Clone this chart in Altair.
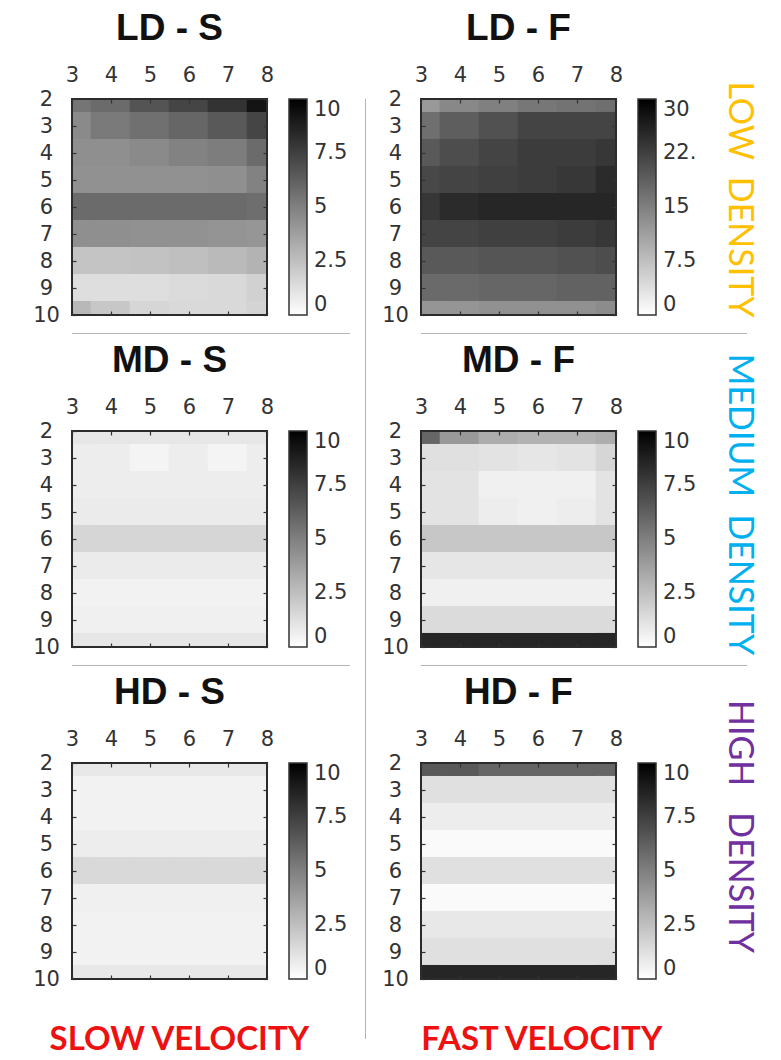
import altair as alt
import pandas as pd

# ---------------- data ----------------
X_VALUES = [3, 4, 5, 6, 7, 8]
Y_VALUES = [2, 3, 4, 5, 6, 7, 8, 9, 10]

# rows: y = 2 .. 10 ; columns: x = 3 .. 8
LD_S = [
    [5.4, 5.8, 6.7, 7.3, 8.0, 9.2],
    [4.6, 5.2, 5.6, 6.0, 6.5, 7.3],
    [4.4, 4.4, 4.6, 4.9, 5.1, 5.8],
    [4.3, 4.3, 4.3, 4.3, 4.4, 4.9],
    [5.8, 5.8, 5.8, 5.8, 5.8, 5.7],
    [4.4, 4.4, 4.3, 4.3, 4.2, 4.1],
    [2.3, 2.3, 2.4, 2.5, 2.7, 3.0],
    [1.3, 1.3, 1.3, 1.4, 1.5, 1.8],
    [2.8, 2.2, 1.6, 1.5, 1.5, 1.7],
]
LD_F = [
    [12.0, 14.0, 15.0, 16.0, 16.5, 17.0],
    [17.0, 19.0, 20.5, 22.0, 22.0, 22.0],
    [19.5, 21.0, 22.0, 23.0, 23.0, 23.5],
    [21.5, 22.0, 22.5, 23.0, 23.5, 25.0],
    [23.5, 25.0, 25.5, 25.5, 25.5, 25.5],
    [22.0, 22.0, 22.5, 22.5, 23.0, 23.5],
    [19.5, 19.5, 20.0, 20.0, 20.5, 21.0],
    [17.5, 17.5, 18.0, 18.0, 18.5, 18.5],
    [12.5, 12.5, 13.0, 13.0, 13.0, 13.5],
]
MD_S = [
    [1.0, 1.0, 1.0, 1.0, 1.0, 1.0],
    [0.7, 0.7, 0.45, 0.7, 0.45, 0.7],
    [0.7, 0.7, 0.7, 0.7, 0.7, 0.7],
    [0.8, 0.8, 0.8, 0.8, 0.8, 0.8],
    [1.6, 1.6, 1.6, 1.6, 1.6, 1.6],
    [0.8, 0.8, 0.8, 0.8, 0.8, 0.8],
    [0.5, 0.5, 0.5, 0.5, 0.5, 0.5],
    [0.6, 0.6, 0.6, 0.6, 0.6, 0.6],
    [1.0, 1.0, 1.0, 1.0, 1.0, 1.0],
]
MD_F = [
    [6.0, 4.0, 3.2, 3.0, 3.0, 3.2],
    [1.2, 1.2, 1.1, 1.0, 1.1, 1.6],
    [1.1, 1.1, 0.6, 0.6, 0.6, 1.1],
    [1.1, 1.1, 0.7, 0.6, 0.7, 1.1],
    [2.2, 2.2, 2.2, 2.2, 2.2, 2.2],
    [1.0, 1.0, 1.0, 1.0, 1.0, 1.0],
    [0.6, 0.6, 0.6, 0.6, 0.6, 0.6],
    [1.4, 1.4, 1.4, 1.4, 1.4, 1.4],
    [8.5, 8.5, 8.5, 8.5, 8.5, 8.5],
]
HD_S = [
    [0.9, 0.9, 0.9, 0.9, 0.9, 0.9],
    [0.5, 0.5, 0.5, 0.5, 0.5, 0.5],
    [0.5, 0.5, 0.5, 0.5, 0.5, 0.5],
    [0.7, 0.7, 0.7, 0.7, 0.7, 0.7],
    [1.5, 1.5, 1.5, 1.5, 1.5, 1.5],
    [0.6, 0.6, 0.6, 0.6, 0.6, 0.6],
    [0.5, 0.5, 0.5, 0.5, 0.5, 0.5],
    [0.5, 0.5, 0.5, 0.5, 0.5, 0.5],
    [0.9, 0.9, 0.9, 0.9, 0.9, 0.9],
]
HD_F = [
    [6.5, 6.5, 6.0, 6.0, 6.0, 6.0],
    [1.2, 1.2, 1.2, 1.2, 1.2, 1.2],
    [0.7, 0.7, 0.7, 0.7, 0.7, 0.7],
    [0.2, 0.2, 0.2, 0.2, 0.2, 0.2],
    [1.2, 1.2, 1.2, 1.2, 1.2, 1.2],
    [0.2, 0.2, 0.2, 0.2, 0.2, 0.2],
    [0.9, 0.9, 0.9, 0.9, 0.9, 0.9],
    [1.2, 1.2, 1.2, 1.2, 1.2, 1.2],
    [8.5, 8.5, 8.5, 8.5, 8.5, 8.5],
]

CB_10 = [0, 2.5, 5, 7.5, 10]
CB_30 = [0, 7.5, 15, 22.5, 30]

PANEL_TITLES = ["LD - S", "LD - F", "MD - S", "MD - F", "HD - S", "HD - F"]
ROW_LABELS = ["LOW\u00a0\u00a0DENSITY", "MEDIUM\u00a0\u00a0DENSITY", "HIGH\u00a0\u00a0\u00a0DENSITY"]
ROW_COLORS = ["#FFC000", "#00B0F0", "#7030A0"]
COL_LABELS = ["SLOW VELOCITY", "FAST VELOCITY"]

# ---------------- styling ----------------
W, H = 195, 216
TICK_FONT = "DejaVu Sans"
TXT = "#333333"
LINE = "#b4b4b4"
RED = "#EE1111"


def panel(title, grid, vmax, cb_values):
    df = pd.DataFrame(
        [{"x": x, "y": y, "v": grid[i][j]}
         for i, y in enumerate(Y_VALUES) for j, x in enumerate(X_VALUES)]
    )
    xs = alt.Scale(domain=[3, 8], clamp=True, nice=False, zero=False)
    ys = alt.Scale(domain=[2, 10], reverse=True, clamp=True, nice=False, zero=False)
    cs = alt.Scale(domain=[0, vmax], range=["#ffffff", "#000000"], interpolate="rgb")
    label_expr = "datum.value == 22.5 ? '22.' : '' + datum.value"
    heat = (
        alt.Chart(df)
        .transform_calculate(
            x0="datum.x - 0.52", x1="datum.x + 0.52",
            y0="datum.y - 0.52", y1="datum.y + 0.52",
        )
        .mark_rect()
        .encode(
            x=alt.X("x0:Q", scale=xs, axis=alt.Axis(
                orient="top", values=X_VALUES, title=None, grid=False, domain=False,
                offset=-4, tickSize=4, tickColor=TXT, tickWidth=1.2, labelPadding=14,
                labelFlush=False, labelFont=TICK_FONT, labelFontSize=21,
                labelColor=TXT, zindex=1)),
            x2="x1:Q",
            y=alt.Y("y0:Q", scale=ys, axis=alt.Axis(
                orient="left", values=Y_VALUES, title=None, grid=False, domain=False,
                offset=-4, tickSize=4, tickColor=TXT, tickWidth=1.2, labelPadding=26,
                labelAlign="center", labelFlush=False, labelFont=TICK_FONT,
                labelFontSize=21, labelColor=TXT, labelBaseline="middle", zindex=1)),
            y2="y1:Q",
            color=alt.Color("v:Q", scale=cs, legend=alt.Legend(
                type="gradient", title=None, orient="right", direction="vertical",
                gradientLength=H, gradientThickness=18, values=cb_values,
                gradientStrokeColor=TXT, gradientStrokeWidth=1.5,
                labelFont=TICK_FONT, labelFontSize=21, labelColor=TXT,
                labelBaseline="middle",
                labelOffset=7, offset=21, padding=0, labelExpr=label_expr)),
        )
    )
    ticks = (
        alt.Chart(df)
        .mark_point(size=0, opacity=0)
        .encode(
            x=alt.X("x:Q", scale=xs, axis=alt.Axis(
                orient="bottom", values=X_VALUES, title=None, grid=False,
                domain=False, labels=False, offset=-4, tickSize=4,
                tickColor=TXT, tickWidth=1.2, zindex=1)),
            y=alt.Y("y:Q", scale=ys, axis=alt.Axis(
                orient="right", values=Y_VALUES, title=None, grid=False,
                domain=False, labels=False, offset=-4, tickSize=4,
                tickColor=TXT, tickWidth=1.2, zindex=1)),
        )
    )
    frame = (
        alt.Chart(pd.DataFrame({"one": [1]}))
        .mark_rect(fillOpacity=0, stroke="#2b2b2b", strokeWidth=2)
        .encode(x=alt.value(0), x2=alt.value("width"),
                y=alt.value(0), y2=alt.value("height"))
    )
    return (
        alt.layer(heat, ticks, frame)
        .resolve_axis(x="independent", y="independent")
        .properties(
            width=W, height=H,
            title=alt.Title(title, font="Liberation Sans", fontSize=37,
                            fontWeight="bold", color="#111111", anchor="middle",
                            frame="group", offset=16),
        )
    )


def divider(w, h):
    return (
        alt.Chart(pd.DataFrame({"one": [1]}))
        .mark_point(size=0, opacity=0)
        .properties(width=w, height=h,
                    view=alt.ViewBackground(fill=LINE, strokeOpacity=0))
    )


def indep(c):
    return c.resolve_scale(color="independent").resolve_legend(color="independent")


grids = [LD_S, LD_F, MD_S, MD_F, HD_S, HD_F]
maxes = [10, 30, 10, 10, 10, 10]
cbs = [CB_10, CB_30, CB_10, CB_10, CB_10, CB_10]
row_dx = [32, 5, -5]

left, right = [], []
for r in range(3):
    s = panel(PANEL_TITLES[2 * r], grids[2 * r], maxes[2 * r], cbs[2 * r])
    f = panel(PANEL_TITLES[2 * r + 1], grids[2 * r + 1], maxes[2 * r + 1], cbs[2 * r + 1])
    f = indep(alt.hconcat(
        f,
        title=alt.Title(ROW_LABELS[r], orient="right", anchor="middle",
                        font="Lato", fontSize=34, fontWeight="normal",
                        color=ROW_COLORS[r], offset=25, dx=row_dx[r]),
    ))
    if r == 2:
        s = indep(alt.vconcat(
            s, title=alt.Title(COL_LABELS[0], orient="bottom", anchor="middle",
                               font="Lato", fontSize=33, fontWeight="bold",
                               color=RED, offset=35, dx=-11),
        ))
        f = indep(alt.vconcat(
            f, title=alt.Title(COL_LABELS[1], orient="bottom", anchor="middle",
                               font="Lato", fontSize=33, fontWeight="bold",
                               color=RED, offset=35, dx=-27),
        ))
    left.append(s)
    right.append(f)

left_col = indep(alt.vconcat(left[0], divider(278, 1), left[1], divider(278, 1), left[2], spacing=8))
right_col = indep(alt.vconcat(right[0], divider(326, 1), right[1], divider(326, 1), right[2], spacing=8))

chart = (
    indep(alt.hconcat(left_col, divider(1, 940), right_col, spacing=15))
    .properties(padding={"left": 24, "top": 2, "right": 12, "bottom": 0},
                background="white")
    .configure_view(strokeWidth=0)
)

chart.save("out.html", embed_options={"renderer": "svg", "actions": False})
